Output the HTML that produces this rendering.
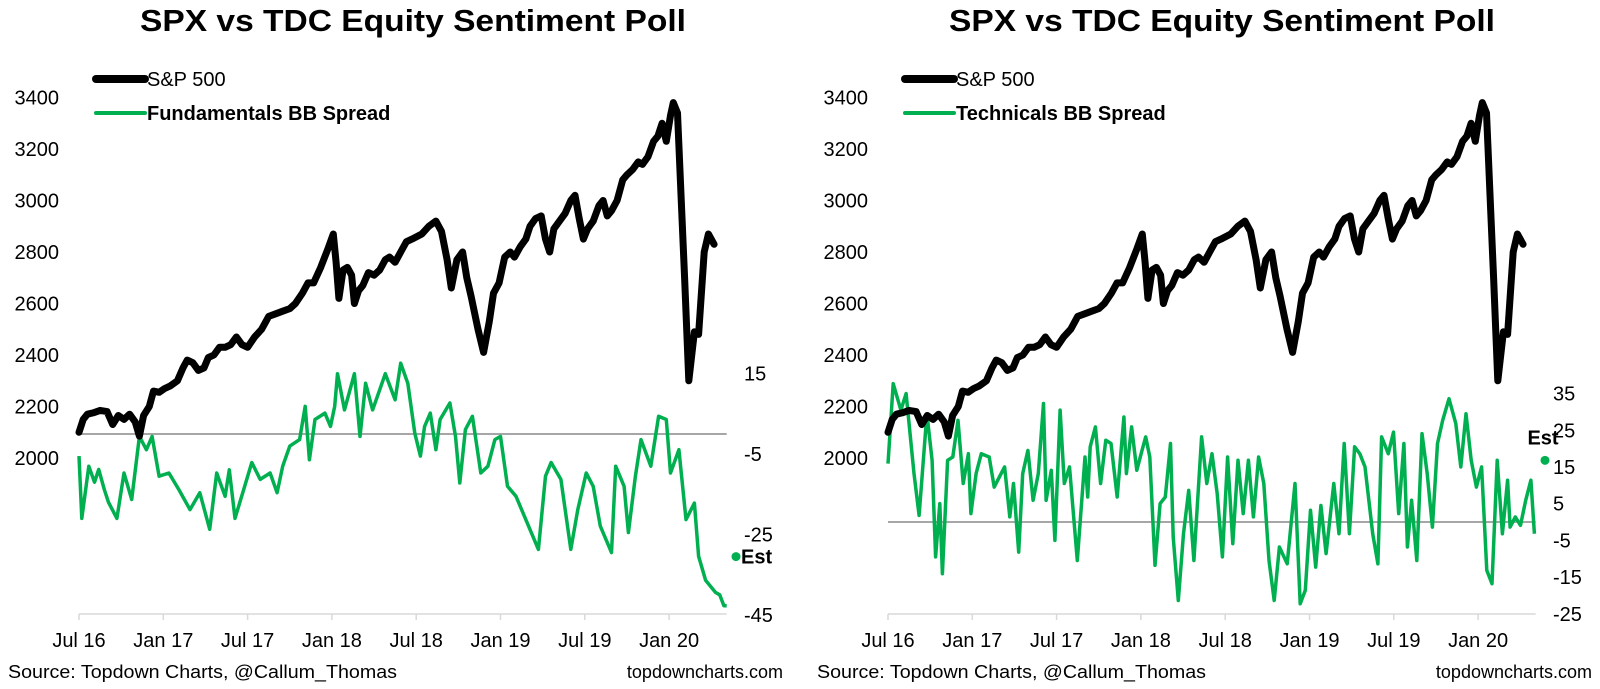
<!DOCTYPE html>
<html><head><meta charset="utf-8"><style>
body{margin:0;background:#fff;}
svg{display:block;font-family:"Liberation Sans",Arial,sans-serif;}
</style></head><body>
<svg id="chart" width="1600" height="689" viewBox="0 0 1600 689" xmlns="http://www.w3.org/2000/svg"></svg>
<script>
const xLabels=["Jul 16","Jan 17","Jul 17","Jan 18","Jul 18","Jan 19","Jul 19","Jan 20"];
const spxTicks=[2000,2200,2400,2600,2800,3000,3200,3400];
const fundTicks=[15,-5,-25,-45];
const techTicks=[35,25,15,5,-5,-15,-25];
const spxM=[0,0.3,0.6,1,1.5,2,2.4,2.8,3.2,3.6,4,4.3,4.6,5,5.3,5.7,6.1,6.5,7,7.4,7.7,8.1,8.5,8.9,9.2,9.6,10,10.4,10.8,11.2,11.6,12,12.5,13,13.5,14,14.5,15,15.4,15.9,16.3,16.7,17.2,17.7,18.1,18.3,18.5,18.8,19.1,19.4,19.6,19.9,20.2,20.6,21,21.4,21.8,22.1,22.5,22.9,23.3,23.7,24.4,24.9,25.4,25.8,26.2,26.5,26.9,27.3,27.6,27.9,28.4,28.8,29.2,29.5,29.9,30.3,30.7,31,31.4,31.8,32.1,32.5,32.9,33.2,33.5,33.8,34.2,34.6,35,35.3,35.6,35.9,36.2,36.6,37,37.3,37.6,37.9,38.3,38.7,39,39.4,39.8,40.1,40.5,40.9,41.2,41.5,41.8,42.1,42.3,42.6,42.9,43.1,43.4,43.8,44.1,44.5,44.8,45.2];
const spxV=[2100,2150,2170,2175,2185,2180,2130,2165,2150,2170,2140,2085,2165,2200,2260,2255,2270,2280,2300,2350,2380,2370,2340,2350,2390,2400,2430,2430,2440,2470,2440,2430,2470,2500,2550,2560,2570,2580,2600,2640,2680,2680,2740,2810,2870,2760,2620,2730,2740,2710,2600,2650,2670,2720,2710,2730,2770,2780,2760,2800,2840,2850,2870,2900,2920,2880,2770,2660,2770,2800,2700,2630,2500,2410,2530,2640,2680,2780,2800,2780,2820,2850,2900,2930,2940,2850,2800,2890,2920,2950,3000,3020,2930,2850,2890,2920,2980,3000,2940,2960,3000,3080,3100,3120,3150,3140,3170,3230,3250,3300,3230,3330,3380,3340,2960,2700,2300,2490,2480,2800,2870,2830];
const fundM=[0,0.2,0.7,1.1,1.4,1.8,2.1,2.7,3.2,3.75,4.3,4.8,5.2,5.7,6.4,7.1,7.9,8.6,9.3,9.8,10.4,10.7,11.1,11.8,12.3,12.9,13.6,14.1,14.5,15,15.7,16.1,16.4,16.8,17.5,17.9,18.2,18.4,18.9,19.6,20,20.4,20.9,21.4,21.8,22.5,22.9,23.4,23.9,24.3,24.6,25,25.4,25.7,26.4,26.8,27.1,27.5,28,28.6,29.1,29.6,30,30.5,31.1,31.8,32.7,33.2,33.6,34.3,35,35.5,36.1,36.6,37.1,37.9,38.2,38.8,39.1,39.6,40,40.7,41.25,41.8,42.1,42.7,43.2,43.8,44.1,44.6,45.3,45.6,45.9,46.1];
const fundV=[-5.5,-21,-8,-12,-8.8,-13.8,-17,-21,-9.7,-16.3,-0.6,-3.9,-0.6,-10.5,-9.7,-13.8,-18.8,-14.6,-23.7,-9.7,-15.5,-8.9,-21,-12.9,-7.1,-11.3,-9.7,-14.6,-8,-3,-1.4,6.9,-6.4,3.6,5.2,1.9,6.9,15,6,15,-0.6,12.6,6,11,15,8.5,17.6,12.6,0.2,-5.5,1.9,5.2,-3.9,3.6,7.7,-0.6,-12.2,1.1,4.4,-9.7,-8,-1.4,-0.6,-13,-15.5,-21.3,-28.7,-10.5,-7.1,-11.3,-28.7,-18.8,-9.7,-13,-22.9,-29.5,-8,-13,-24.5,-10.5,-1.4,-8,4.4,3.6,-9.7,-3.9,-21.3,-17.2,-30.4,-36.4,-39.4,-40,-42.7,-42.7];
const techM=[0,0.37,0.92,1.29,1.85,2.21,2.77,3.14,3.39,3.69,3.87,4.24,4.61,4.98,5.35,5.72,5.9,6.27,6.64,7.2,7.56,7.93,8.3,8.67,8.93,9.3,9.59,9.96,10.33,10.7,11.07,11.25,11.62,11.88,12.25,12.55,12.92,13.47,14.02,14.21,14.39,14.76,15.13,15.5,15.87,16.31,16.79,16.97,17.34,17.71,18.08,18.34,18.63,19,19.37,19.74,20.11,20.3,20.66,21.03,21.4,21.77,22.32,22.69,23.06,23.43,23.8,24.17,24.54,24.91,25.28,25.65,26.01,26.38,26.75,27.12,27.49,27.86,28.41,28.6,28.97,29.34,29.7,30.07,30.44,30.81,31.18,31.73,32.1,32.47,32.84,33.21,33.58,33.95,34.5,34.87,35.13,35.61,35.98,36.35,36.72,36.97,37.27,37.64,38.01,38.38,38.75,39.11,39.48,39.93,40.41,40.77,41.14,41.51,41.88,42.25,42.62,42.99,43.36,43.73,44.1,44.28,44.65,45.02,45.39,45.76,46.01];
const techV=[15.9,37.7,30.5,35,13.2,1.8,29.5,16.8,-9.5,5,-14.1,16.8,17.7,27.7,10.5,18.6,2.3,13.2,18.6,17.7,9.5,12.3,15,1.4,10.5,-8.2,13.2,19.5,5.9,13.2,32.3,5.9,14.1,-5,30.5,10.5,15,-10.5,17.7,6.8,20.5,25.9,10.5,22.3,21.4,6.8,28.6,13.2,25.9,14.1,19.5,23.2,17.7,-11.8,5,6.8,21.4,-4.1,-21.4,-3.2,8.6,-10.5,23.2,10.5,18.6,7.7,-9.5,17.7,-5.9,16.8,2.3,16.8,1.4,17.7,10.5,-10.5,-21.4,-6.8,-11.4,-4.1,10.5,-22.3,-18.6,3.2,-12.3,4.5,-8.6,10.5,-3.2,21.4,-3.2,20.5,18.6,15,-3.2,-11.4,23.2,18.6,24.5,2.3,21.4,-6.8,5.9,-10.5,24.1,13.2,-1.4,21.4,27.7,33.6,26.8,15,29.5,16.8,9.5,15,-13.2,-16.8,16.8,-3.2,11.4,-1.4,1.4,-0.9,5.9,11.4,-3.2];
const fundEst=-30.5;
const techEst=16.8;

const NS="http://www.w3.org/2000/svg";
const svg=document.getElementById('chart');
function mk(tag,attrs,parent){const e=document.createElementNS(NS,tag);for(const k in attrs)e.setAttribute(k,attrs[k]);(parent||svg).appendChild(e);return e;}
function txt(s,attrs,parent){const e=mk('text',attrs,parent);e.textContent=s;return e;}

function drawPanel(ox,title,legend2,sM,sV,tickArr,zeroY,perUnit,estV,estRight,prefix){
  const g=mk('g',{});
  
  
  const xS=m=>ox+79+m*14.05;
  const yL=v=>458-(v-2000)*0.2575;
  const yR=v=>zeroY-v*perUnit;
  const t=txt(title,{x:ox+413,y:31,'text-anchor':'middle','font-size':31,'font-weight':'bold',fill:'#000',textLength:546,lengthAdjust:'spacingAndGlyphs'},g);
  
  
  // left axis labels
  spxTicks.forEach(v=>{const e=txt(String(v),{x:ox+59,y:yL(v)+7,'text-anchor':'end','font-size':20,fill:'#000'},g);
    
    });
  // right axis labels
  tickArr.forEach(v=>{const e=txt(String(v),{x:ox+744,y:yR(v)+7,'font-size':20,fill:'#000'},g);
    
    });
  // x axis
  const ax=mk('line',{x1:xS(0),x2:xS(46.1),y1:614,y2:614,stroke:'#d9d9d9','stroke-width':1.5},g);
  
  
  xLabels.forEach((l,i)=>{
    const tk=mk('line',{x1:xS(i*6),x2:xS(i*6),y1:614,y2:620,stroke:'#d9d9d9','stroke-width':1.5},g);
    
    
    const e=txt(l,{x:xS(i*6),y:647,'text-anchor':'middle','font-size':20,fill:'#000'},g);
    
    
  });
  // zero line
  const z=mk('line',{x1:xS(0),x2:xS(46.1),y1:yR(0),y2:yR(0),stroke:'#a6a6a6','stroke-width':2},g);
  
  
  // green series
  let d='';sM.forEach((m,i)=>{d+=(i?'L':'M')+xS(m).toFixed(1)+','+yR(sV[i]).toFixed(1);});
  const gp=mk('path',{d:d,fill:'none',stroke:'#00b050','stroke-width':3.5,'stroke-linejoin':'round'},g);
  
  
  // spx
  let d2='';spxM.forEach((m,i)=>{d2+=(i?'L':'M')+xS(m).toFixed(1)+','+yL(spxV[i]).toFixed(1);});
  const sp=mk('path',{d:d2,fill:'none',stroke:'#000','stroke-width':7,'stroke-linejoin':'round','stroke-linecap':'round'},g);
  
  
  // est
  const ex=ox+736, ey=yR(estV);
  const dot=mk('circle',{cx:ex,cy:ey,r:4.5,fill:'#00b050'},g);
  
  
  const et=estRight?txt('Est',{x:ex+5,y:ey+7,'font-size':20,'font-weight':'bold',fill:'#000'},g):txt('Est',{x:ex-2,y:ey-16,'text-anchor':'middle','font-size':20,'font-weight':'bold',fill:'#000'},g);
  
  
  // legend
  const l1=mk('line',{x1:ox+96,x2:ox+145,y1:79,y2:79,stroke:'#000','stroke-width':8,'stroke-linecap':'round'},g);
  
  
  const lt1=txt('S&P 500',{x:ox+147,y:86,'font-size':20,fill:'#000'},g);
  
  
  const l2=mk('line',{x1:ox+96,x2:ox+145,y1:113,y2:113,stroke:'#00b050','stroke-width':4,'stroke-linecap':'round'},g);
  
  
  const lt2=txt(legend2,{x:ox+147,y:120,'font-size':20,'font-weight':'bold',fill:'#000'},g);
  
  
  // source
  const s1=txt('Source: Topdown Charts, @Callum_Thomas',{x:ox+8,y:678,'font-size':18,fill:'#000',textLength:389,lengthAdjust:'spacingAndGlyphs'},g);
  
  
  const s2=txt('topdowncharts.com',{x:ox+783,y:678,'text-anchor':'end','font-size':18,fill:'#000'},g);
  
  
}
drawPanel(0,'SPX vs TDC Equity Sentiment Poll','Fundamentals BB Spread',fundM,fundV,fundTicks,434,4.02,fundEst,true,'fundamentals');
drawPanel(809,'SPX vs TDC Equity Sentiment Poll','Technicals BB Spread',techM,techV,techTicks,522,3.67,techEst,false,'technicals');
</script>
</body></html>
